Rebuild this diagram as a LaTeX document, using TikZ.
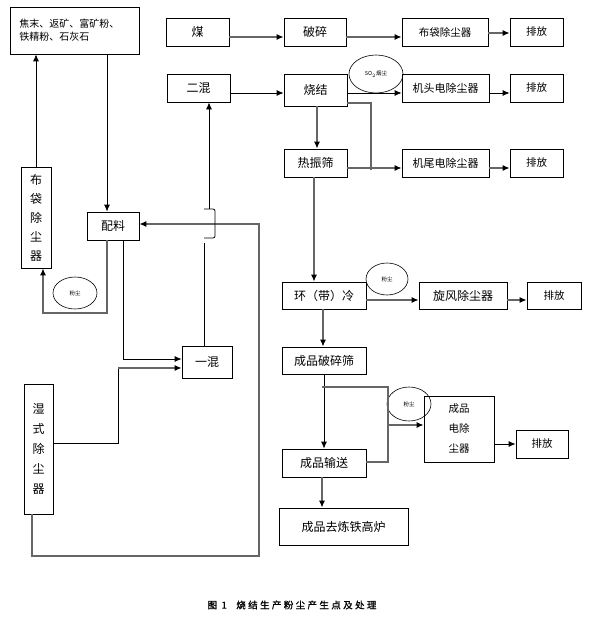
\documentclass[tikz,border=0pt]{standalone}
\usepackage{fontspec}
\setmainfont{Noto Sans CJK SC}
\usetikzlibrary{arrows.meta,shapes.geometric}

\begin{document}
\begin{tikzpicture}[x=1pt, y=-1pt, >={Latex[length=7pt,width=6pt,black]},
  box/.style={draw, line width=0.8pt, inner sep=0pt, align=center, font=\fontsize{12}{14}\selectfont},
  blob/.style={draw, ellipse, line width=0.6pt, inner sep=0pt, font=\fontsize{5.5}{6}\selectfont},
  flow/.style={line width=0.8pt},
  gflow/.style={line width=1.2pt, black!60}]
  \useasboundingbox (0,0) rectangle (596,618);
  % left column
  \node[box, minimum width=129, minimum height=47, text width=110, align=left, font=\fontsize{10}{13}\selectfont] (raw) at (74.5,30.5) {焦末、返矿、富矿粉、\\铁精粉、石灰石};
  \node[box, minimum width=30, minimum height=101, font=\fontsize{12}{19}\selectfont] (bdleft) at (36,217.5) {布\\袋\\除\\尘\\器};
  \node[box, minimum width=52, minimum height=28] (peiliao) at (113,226) {配料};
  \node[blob, minimum width=44, minimum height=32] (fc1) at (75,293) {粉尘};
  \node[box, minimum width=50, minimum height=32] (yimix) at (207,362) {一混};
  \node[box, minimum width=29, minimum height=130, font=\fontsize{12}{20}\selectfont] (shishi) at (38.5,449) {湿\\式\\除\\尘\\器};
  \node[box, minimum width=63, minimum height=28] (mei) at (197.5,32) {煤};
  \node[box, minimum width=63, minimum height=28] (ermix) at (198.5,88) {二混};
  % sintering line
  \node[box, minimum width=62, minimum height=28] (posui) at (315,32) {破碎};
  \node[box, minimum width=86, minimum height=28, font=\fontsize{10.5}{12}\selectfont] (bdtop) at (445,32) {布袋除尘器};
  \node[box, minimum width=53, minimum height=28, font=\fontsize{10.5}{12}\selectfont] (pf1) at (536.5,32) {排放};
  \node[box, minimum width=63, minimum height=32] (shaojie) at (315.5,90) {烧结};
  \node[blob, minimum width=54, minimum height=38] (so2) at (376,74) {SO$_2$烟尘};
  \node[box, minimum width=87, minimum height=28, font=\fontsize{11}{12}\selectfont] (jitou) at (445.5,88) {机头电除尘器};
  \node[box, minimum width=53, minimum height=28, font=\fontsize{10.5}{12}\selectfont] (pf2) at (536.5,88) {排放};
  \node[box, minimum width=63, minimum height=28] (rzs) at (315.5,163) {热振筛};
  \node[box, minimum width=87, minimum height=28, font=\fontsize{11}{12}\selectfont] (jiwei) at (445.5,163) {机尾电除尘器};
  \node[box, minimum width=53, minimum height=28, font=\fontsize{10.5}{12}\selectfont] (pf3) at (536.5,163) {排放};
  % cooling and product
  \node[box, minimum width=84, minimum height=27] (huanleng) at (324,295.5) {环（带）冷};
  \node[blob, minimum width=42, minimum height=32] (fc2) at (387,279) {粉尘};
  \node[box, minimum width=88, minimum height=27] (xuanfeng) at (463,295.5) {旋风除尘器};
  \node[box, minimum width=54, minimum height=27, font=\fontsize{10.5}{12}\selectfont] (pf4) at (554,295.5) {排放};
  \node[box, minimum width=84, minimum height=27] (cppss) at (324,360.5) {成品破碎筛};
  \node[box, minimum width=84, minimum height=28] (cpss) at (324,463) {成品输送};
  \node[blob, minimum width=44, minimum height=34] (fc3) at (409,404) {粉尘};
  \node[box, minimum width=70, minimum height=66, font=\fontsize{10.5}{20}\selectfont] (cpdc) at (459,429) {成品\\电除\\尘器};
  \node[box, minimum width=52, minimum height=28, font=\fontsize{10.5}{12}\selectfont] (pf5) at (542,444) {排放};
  \node[box, minimum width=129, minimum height=37] (gaolu) at (343.5,526.5) {成品去炼铁高炉};
  \node[font=\fontsize{9.5}{11}\selectfont\addfontfeature{LetterSpace=25,FakeBold=1.2}] (cap) at (292,605) {图 1\quad 烧结生产粉尘产生点及处理};

  % raw material and mixing
  \draw[flow, ->] (bdleft.north) -- (bdleft.north |- raw.south);
  \draw[flow, ->] ([xshift=-6]peiliao.north |- raw.south) -- ([xshift=-6]peiliao.north);
  \coordinate (fcl) at (43,313);
  \draw[gflow, ->] ([xshift=-6]peiliao.south) |- (fcl) -- (fcl |- bdleft.south);
  \draw[flow, ->] ([xshift=10]peiliao.south) |- ([yshift=3]yimix.west);
  \coordinate (ss) at (118,368);
  \draw[flow] ([yshift=6]shishi.east) -| (ss);
  \draw[gflow, ->] (ss) -- ([yshift=-6]yimix.west);
  \coordinate (loop) at (259,556);
  \draw[gflow, ->] ([xshift=-6.5]shishi.south) |- (loop) |- ([yshift=2]peiliao.east);
  \coordinate (jb) at (204,238);
  \coordinate (jt) at (204,209);
  \draw[flow] ([xshift=-3]yimix.north) -- ([yshift=-5]jb);
  \draw[flow, rounded corners=2] (jb) -- ++(11,0) -- ++(0,-29) -- (jt);
  \draw[flow, ->] ([xshift=5]jt) -- ([xshift=10.5]ermix.south);
  \draw[gflow, ->] ([yshift=-5]mei.east) -- ([yshift=-5]posui.west);
  \draw[flow, ->] ([yshift=-5]ermix.east) -- ([yshift=-3]shaojie.west);
  % dust from sintering
  \draw[gflow, ->] ([yshift=-5]posui.east) -- ([yshift=-5]bdtop.west);
  \draw[gflow, ->] ([yshift=-1]bdtop.east) -- ([yshift=-1]pf1.west);
  \draw[flow, ->] ([yshift=-3]shaojie.east) -- ([yshift=-5]jitou.west);
  \draw[flow, ->] ([yshift=-5]jitou.east) -- ([yshift=-5]pf2.west);
  \draw[gflow, ->] ([xshift=1.5]shaojie.south) -- ([xshift=1.5]rzs.north);
  \coordinate (sjw) at (371,170);
  \draw[gflow] ([yshift=-13]shaojie.east) -| (sjw);
  \draw[gflow, ->] ([yshift=-5]rzs.east) -- ([yshift=-5]jiwei.west);
  \draw[gflow, ->] ([yshift=-5]jiwei.east) -- ([yshift=-5]pf3.west);
  % cooling and product
  \draw[gflow, ->] ([xshift=-1.5]rzs.south) -- ([xshift=-10]huanleng.north);
  \draw[gflow, ->] ([yshift=-4.5]huanleng.east) -- ([yshift=-4.5]xuanfeng.west);
  \draw[gflow, ->] ([yshift=-4.5]xuanfeng.east) -- ([yshift=-4.5]pf4.west);
  \draw[gflow, ->] ([xshift=-1]huanleng.south) -- ([xshift=-1]cppss.north);
  \draw[flow, ->] (cppss.south) -- (cpss.north);
  \coordinate (b1) at (388,387);
  \draw[gflow] ([xshift=-2]cppss.south |- b1) -- (b1) |- ([yshift=1]cpss.east);
  \draw[gflow, ->] ([yshift=4]cpdc.west -| b1) -- ([yshift=4]cpdc.west);
  \draw[flow, ->] (cpdc.east |- pf5.west) -- (pf5.west);
  \draw[gflow, ->] ([xshift=-2]cpss.south) -- ([xshift=-2]cpss.south |- gaolu.north);
\end{tikzpicture}
\end{document}
